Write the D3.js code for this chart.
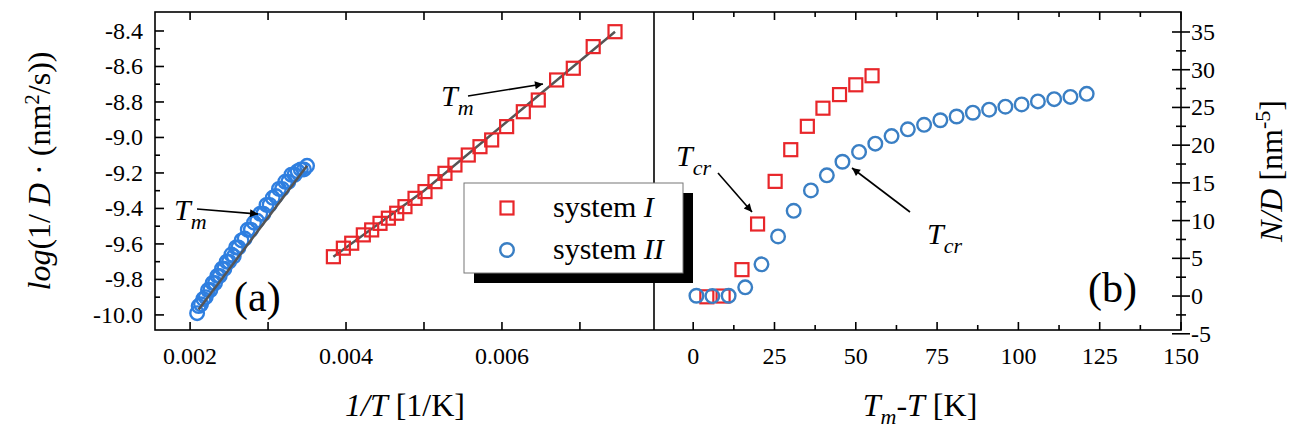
<!DOCTYPE html>
<html><head><meta charset="utf-8">
<script src="https://cdn.jsdelivr.net/npm/d3@7"></script>
<style>body{margin:0;background:#fff} text{font-family:"Times New Roman","Liberation Serif",Tinos,serif}</style>
</head><body><svg id="c" width="1295" height="434"></svg>
<script>
// panel (a): log(1/D) vs 1/T
var redAX = [0.003838,0.003966,0.004073,0.004222,0.004329,0.004436,0.004543,0.00465,0.004756,0.004885,0.005013,0.005141,0.005269,0.005397,0.005568,0.005718,0.005868,0.00606,0.006274,0.006466,0.006701,0.006915,0.00717,0.00745];
var redAY = [-9.672,-9.624,-9.596,-9.549,-9.521,-9.484,-9.455,-9.427,-9.390,-9.343,-9.305,-9.249,-9.202,-9.155,-9.099,-9.052,-9.014,-8.939,-8.855,-8.789,-8.676,-8.610,-8.488,-8.404];
var blueAX = [0.00209,0.00211,0.00214,0.00217,0.00220,0.00223,0.00226,0.00229,0.00232,0.00235,0.00238,0.00241,0.00244,0.00247,0.00250,0.00253,0.00256,0.00259,0.00262,0.00266,0.00270,0.00274,0.00278,0.00282,0.00286,0.00290,0.00294,0.00298,0.00302,0.00306,0.00310,0.00314,0.00318,0.00322,0.00326,0.00330,0.00334,0.00338,0.00342,0.00346,0.00350];
var blueAY = [-9.99,-9.95,-9.94,-9.91,-9.90,-9.86,-9.86,-9.82,-9.82,-9.78,-9.78,-9.74,-9.74,-9.70,-9.70,-9.66,-9.67,-9.62,-9.62,-9.58,-9.57,-9.52,-9.52,-9.48,-9.47,-9.43,-9.43,-9.38,-9.38,-9.34,-9.33,-9.29,-9.29,-9.25,-9.25,-9.21,-9.21,-9.19,-9.18,-9.18,-9.16];
var fitRedX = [0.003838,0.0050,0.00745], fitRedY = [-9.672,-9.30,-8.404];
var fitBlueX = [0.00211,0.00350], fitBlueY = [-9.97,-9.16];
// panel (b): N/D vs Tm-T
var redBX = [4.2,9.2,15.0,19.8,25.2,30.0,35.1,39.9,45.0,50.0,55.0];
var redBY = [-0.1,0.0,3.5,9.55,15.2,19.4,22.5,24.9,26.7,28.0,29.2];
var blueBX = [1,5.9,10.9,16,21,26.1,30.9,36.2,41.1,45.9,51,56,61,66,71,76,81,86,91,96,101,106,111,116,121];
var blueBY = [0.04,0.0,0.04,1.15,4.2,7.9,11.3,14.0,16.0,17.8,19.1,20.2,21.2,22.1,22.7,23.3,23.8,24.3,24.7,25.1,25.4,25.8,26.1,26.4,26.8];

var RED = "#e8262a", BLUE = "#3a7fc4";
var svg = d3.select("#c");
var top_ = 12, bot = 330, xL = 155, xM = 654, xR = 1181;

var xa = d3.scaleLinear().domain([0.00155, 0.00795]).range([xL, xM]);
var ya = d3.scaleLinear().domain([-10.085, -8.293]).range([bot, top_]);
var xb = d3.scaleLinear().domain([-12.05, 150]).range([xM, xR]);
var yb = d3.scaleLinear().domain([-4.5, 37.65]).range([bot, top_]);

function tickLines(vals, f, len, orient) {
  vals.forEach(function(v) {
    var p = f(v);
    var l = svg.append("line").attr("stroke", "#000").attr("stroke-width", 1.6);
    if (orient == "top") l.attr("x1", p).attr("x2", p).attr("y1", top_).attr("y2", top_ + len);
    if (orient == "bot") l.attr("x1", p).attr("x2", p).attr("y1", bot).attr("y2", bot - len);
    if (orient == "left") l.attr("x1", xL).attr("x2", xL + len).attr("y1", p).attr("y2", p);
    if (orient == "right") l.attr("x1", xR - len).attr("x2", xR + len).attr("y1", p).attr("y2", p);
  });
}
var xaT = d3.range(0.002, 0.0076, 0.001);
tickLines(xaT, xa, 8, "top"); tickLines(xaT, xa, 8, "bot");
tickLines(d3.range(-10, -8.3, 0.2), ya, 9, "left");
tickLines(d3.range(-9.9, -8.3, 0.2), ya, 5, "left");
var xbMaj = d3.range(0, 151, 25), xbMin = d3.range(12.5, 150, 25);
tickLines(xbMaj, xb, 8, "top"); tickLines(xbMaj, xb, 8, "bot");
tickLines(xbMin, xb, 5, "top"); tickLines(xbMin, xb, 5, "bot");
tickLines(d3.range(-5, 36, 5), yb, 9, "right");
tickLines(d3.range(-2.5, 36, 5), yb, 5, "right");

// frame
svg.append("rect").attr("x", xL).attr("y", top_).attr("width", xR - xL).attr("height", bot - top_)
  .attr("fill", "none").attr("stroke", "#000").attr("stroke-width", 1.6);
svg.append("line").attr("x1", xM).attr("x2", xM).attr("y1", top_).attr("y2", bot).attr("stroke", "#000").attr("stroke-width", 1.6);

// tick labels
var fs = 24;
[0.002, 0.004, 0.006].forEach(function(v) {
  svg.append("text").attr("x", xa(v)).attr("y", 364).attr("text-anchor", "middle").attr("font-size", fs).text(v.toFixed(3));
});
d3.range(-10, -8.3, 0.2).forEach(function(v) {
  svg.append("text").attr("x", 143).attr("y", ya(v) + 8).attr("text-anchor", "end").attr("font-size", fs).text(v.toFixed(1));
});
xbMaj.forEach(function(v) {
  svg.append("text").attr("x", xb(v)).attr("y", 364).attr("text-anchor", "middle").attr("font-size", fs).text(v);
});
d3.range(-5, 36, 5).forEach(function(v) {
  svg.append("text").attr("x", 1191).attr("y", yb(v) + 8).attr("font-size", fs).text(v);
});

// fit lines
var lineA = d3.line().x(function(d) { return xa(d[0]); }).y(function(d) { return ya(d[1]); });
svg.append("path").attr("d", lineA(d3.zip(fitRedX, fitRedY))).attr("fill", "none").attr("stroke", "#555").attr("stroke-width", 2.5);

// markers
function squares(X, Y, sx, sy) {
  svg.append("g").selectAll("rect").data(d3.zip(X, Y)).join("rect")
    .attr("x", function(d) { return sx(d[0]) - 6.5; }).attr("y", function(d) { return sy(d[1]) - 6.5; })
    .attr("width", 13).attr("height", 13).attr("fill", "none").attr("stroke", RED).attr("stroke-width", 2.2);
}
function circles(X, Y, sx, sy, col) {
  svg.append("g").selectAll("circle").data(d3.zip(X, Y)).join("circle")
    .attr("cx", function(d) { return sx(d[0]); }).attr("cy", function(d) { return sy(d[1]); })
    .attr("r", 6.8).attr("fill", "none").attr("stroke", col).attr("stroke-width", 2.4);
}
squares(redAX, redAY, xa, ya);
circles(blueAX, blueAY, xa, ya, "#2f7fe0");
svg.append("path").attr("d", lineA(d3.zip(fitBlueX, fitBlueY))).attr("fill", "none").attr("stroke", "#555").attr("stroke-width", 2.5);
squares(redBX, redBY, xb, yb);
circles(blueBX, blueBY, xb, yb, BLUE);

// arrows
svg.append("defs").append("marker").attr("id", "ah").attr("viewBox", "0 0 10 10").attr("refX", 10).attr("refY", 5)
  .attr("markerWidth", 12).attr("markerHeight", 8).attr("orient", "auto").attr("markerUnits", "userSpaceOnUse")
  .append("path").attr("d", "M0,0L10,5L0,10z").attr("fill", "#000");
function arrow(x1, y1, x2, y2) {
  svg.append("line").attr("x1", x1).attr("y1", y1).attr("x2", x2).attr("y2", y2)
    .attr("stroke", "#000").attr("stroke-width", 1.6).attr("marker-end", "url(#ah)");
}
function sub(x, y, main, s) {
  var t = svg.append("text").attr("x", x).attr("y", y).attr("font-size", 30).attr("font-style", "italic");
  t.append("tspan").text(main);
  t.append("tspan").attr("font-size", 22).attr("dy", 9).text(s);
}
sub(174, 220, "T", "m"); arrow(197, 209, 258, 214);
sub(441, 106, "T", "m"); arrow(468, 96, 543, 84);
sub(676, 166, "T", "cr"); arrow(718, 173, 752, 212);
sub(927, 244, "T", "cr"); arrow(910, 212, 852, 168);

svg.append("text").attr("x", 234).attr("y", 311).attr("font-size", 42).text("(a)");
svg.append("text").attr("x", 1088).attr("y", 302).attr("font-size", 42).text("(b)");

// legend
svg.append("rect").attr("x", 474).attr("y", 193).attr("width", 219).attr("height", 90).attr("fill", "#000");
svg.append("rect").attr("x", 464).attr("y", 183).attr("width", 219).attr("height", 90).attr("fill", "#fff").attr("stroke", "#777").attr("stroke-width", 1);
squares([0], [0], function() { return 507; }, function() { return 208; });
circles([0], [0], function() { return 507; }, function() { return 250; }, BLUE);
[["system ", "I", 217], ["system ", "II", 259]].forEach(function(e) {
  var t = svg.append("text").attr("x", 553).attr("y", e[2]).attr("font-size", 30);
  t.append("tspan").text(e[0]);
  t.append("tspan").attr("font-style", "italic").text(e[1]);
});

// axis titles
var ty = svg.append("text").attr("transform", "translate(50,171) rotate(-90)").attr("text-anchor", "middle").attr("font-size", 32);
ty.append("tspan").attr("font-style", "italic").text("log");
ty.append("tspan").text("(1/ ");
ty.append("tspan").attr("font-style", "italic").text("D");
ty.append("tspan").text(" \u00b7 (nm");
ty.append("tspan").attr("font-size", 21).attr("dy", -11).text("2");
ty.append("tspan").attr("dy", 11).text("/s))");

var tx = svg.append("text").attr("x", 405).attr("y", 416).attr("text-anchor", "middle").attr("font-size", 32);
tx.append("tspan").attr("font-style", "italic").text("1/T");
tx.append("tspan").text(" [1/K]");

var tb = svg.append("text").attr("x", 920).attr("y", 416).attr("text-anchor", "middle").attr("font-size", 32);
tb.append("tspan").attr("font-style", "italic").text("T");
tb.append("tspan").attr("font-style", "italic").attr("font-size", 22).attr("dy", 8).text("m");
tb.append("tspan").attr("dy", -8).text("-");
tb.append("tspan").attr("font-style", "italic").text("T");
tb.append("tspan").text(" [K]");

var tr = svg.append("text").attr("transform", "translate(1282,171) rotate(-90)").attr("text-anchor", "middle").attr("font-size", 32);
tr.append("tspan").attr("font-style", "italic").text("N/D");
tr.append("tspan").text(" [nm");
tr.append("tspan").attr("font-size", 22).attr("dy", -12).text("-5");
tr.append("tspan").attr("dy", 12).text("]");

svg.selectAll("text").style("font-family", "'Times New Roman', 'Liberation Serif', serif");
</script></body></html>
